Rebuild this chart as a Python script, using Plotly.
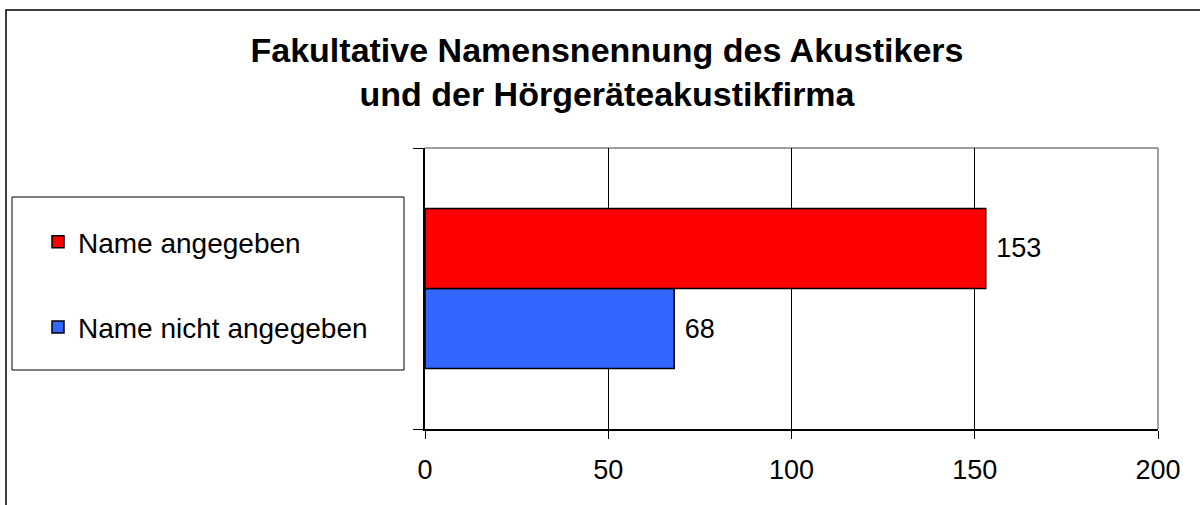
import plotly.graph_objects as go

# Data
categories = ["Namensnennung"]
series_names = ["Name angegeben", "Name nicht angegeben"]
series_values = [[153], [68]]
series_colors = ["#FF0000", "#3366FF"]
x_tickvals = [0, 50, 100, 150, 200]
title_lines = ["Fakultative Namensnennung des Akustikers", "und der Hörgeräteakustikfirma"]

FONT = "Arial, Liberation Sans, sans-serif"

# plot area in pixels
W, H = 1200, 505
L, R, T, B = 425, 42, 148, 76
PW, PH = W - L - R, H - T - B


def px_x(p):
    return (p - L) / PW


def px_y(p):
    return (H - B - p) / PH


fig = go.Figure()
# add in reverse so that the first series sits on top of the group
for i in reversed(range(len(series_names))):
    fig.add_trace(go.Bar(
        y=categories,
        x=series_values[i],
        name=series_names[i],
        orientation="h",
        marker=dict(color=series_colors[i], line=dict(color="black", width=1.5)),
        text=series_values[i],
        texttemplate=" %{x}",
        textposition="outside",
        textfont=dict(size=27, color="black", family=FONT),
        cliponaxis=False,
        legendgroup=series_names[i],
        legendrank=i + 1,
    ))

shapes = [
    # outer chart frame
    dict(type="rect", xref="paper", yref="paper",
         x0=px_x(6), x1=px_x(1215), y0=px_y(520), y1=px_y(10),
         line=dict(color="black", width=1.5), layer="below"),
    # plot area top / right border (gray)
    dict(type="line", xref="paper", yref="paper", x0=0, x1=1, y0=1, y1=1,
         line=dict(color="#808080", width=1.5), layer="below"),
    dict(type="line", xref="paper", yref="paper", x0=1, x1=1, y0=0, y1=1,
         line=dict(color="#808080", width=1.5), layer="below"),
    # legend frame
    dict(type="rect", xref="paper", yref="paper",
         x0=px_x(12), x1=px_x(404), y0=px_y(370), y1=px_y(197),
         line=dict(color="black", width=1), layer="below"),
]

fig.update_layout(
    width=W, height=H,
    margin=dict(l=L, r=R, t=T, b=B),
    paper_bgcolor="white", plot_bgcolor="white",
    font=dict(family=FONT, color="black"),
    title=dict(
        text="<b>" + "<br>".join(title_lines) + "</b>",
        font=dict(size=34, family=FONT, color="black"),
        x=607 / W, xref="container", xanchor="center",
        y=1 - 62 / H, yref="container", yanchor="middle",
    ),
    barmode="group",
    bargap=0.43,
    bargroupgap=0,
    showlegend=True,
    legend=dict(
        x=px_x(38), xanchor="left",
        y=px_y(217), yanchor="top",
        font=dict(size=28, family=FONT, color="black"),
        bgcolor="rgba(0,0,0,0)",
        borderwidth=0,
        tracegroupgap=46,
    ),
    xaxis=dict(
        range=[0, 200],
        tickvals=x_tickvals,
        ticks="outside", ticklen=8, tickcolor="black", tickwidth=1,
        showgrid=True, gridcolor="black", gridwidth=1,
        showline=True, linecolor="black", linewidth=1.5,
        zeroline=False,
        tickfont=dict(size=27, family=FONT, color="black"),
        ticklabelstandoff=8,
        fixedrange=True,
    ),
    yaxis=dict(
        type="category",
        range=[-0.5, 0.5],
        tickson="boundaries",
        ticks="outside", ticklen=10, tickcolor="black",
        showticklabels=False,
        showgrid=False,
        showline=True, linecolor="black", linewidth=1.5,
        zeroline=False,
        fixedrange=True,
    ),
    shapes=shapes,
)

fig.write_html(
    "out.html",
    config={"displayModeBar": False},
    post_script="document.body.style.margin='0';document.body.style.overflow='hidden';",
)
